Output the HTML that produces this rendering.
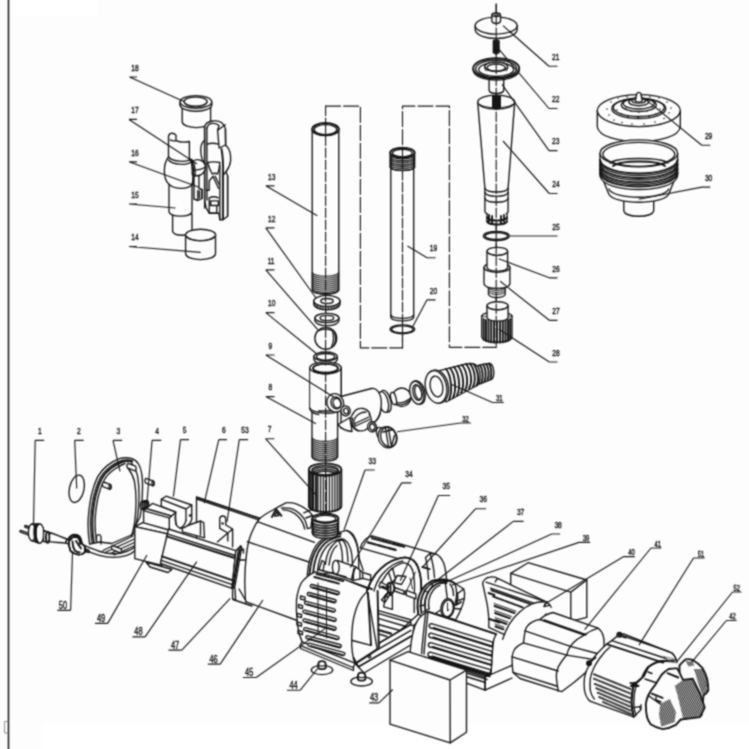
<!DOCTYPE html>
<html><head><meta charset="utf-8"><title>Exploded view</title>
<style>
html,body{margin:0;padding:0;background:#fdfdfd;}
svg{display:block;}
.d{fill:none;stroke:#141414;stroke-width:1.35;stroke-linecap:round;stroke-linejoin:round;}
.d .w{fill:#fdfdfd;}
.d .t{stroke-width:.95;}
.d .b{stroke-width:1.9;}
.d .n{stroke:none;fill:#fdfdfd;}
.l{fill:none;stroke:#181818;stroke-width:1.15;}
.tx{font-family:"Liberation Sans",sans-serif;font-size:9.8px;fill:#141414;stroke:#141414;stroke-width:.4;}
</style></head><body>
<svg width="749" height="749" viewBox="0 0 749 749">
<defs><filter id="soft" filterUnits="userSpaceOnUse" x="-6" y="-6" width="761" height="761" color-interpolation-filters="sRGB"><feConvolveMatrix order="3" kernelMatrix="1 2 1 2 6 2 1 2 1" divisor="18" edgeMode="duplicate" preserveAlpha="true"/></filter></defs>
<g id="all" filter="url(#soft)">
<rect x="-6" y="-6" width="761" height="761" fill="#fdfdfd"/>
<rect x="10" y="-6" width="88" height="22" fill="#ffffff"/>
<rect x="42" y="724" width="713" height="31" fill="#ffffff"/>
<line x1="8.5" y1="-6" x2="8.5" y2="755" stroke="#141414" stroke-width="1.5"/>
<path d="M4.5 721.5h4M4.5 733h4M4.5 721.5v11.5" stroke="#777" stroke-width=".8" fill="none"/>
<g class="d" id="p14_18">
<!-- 18 -->
<path class="w" d="M182.2 105v17c2 7.5 26.4 7.5 28.4 0v-17z"/>
<ellipse class="w" cx="195.9" cy="105" rx="15.8" ry="6.3"/>
<path class="n" d="M180.1 102h31.6v3h-31.6z"/>
<path d="M180.1 102v3M211.7 102v3"/>
<ellipse class="w" cx="195.9" cy="101.9" rx="15.8" ry="6.3"/>
<ellipse cx="195.6" cy="101.6" rx="11.6" ry="4.5"/>
<path class="t" d="M184.5 103.5c3 4.5 19 4.5 22.500 0"/>
<!-- 16 right assembly -->
<path class="w" d="M204.600 127c.5-3 4-5.500 8.400-6c4-.3 8.500 .8 10 3.200c1.500 1.500 2.200 3 2.300 4.600l.3 16.200c2 2 3.800 4.500 4.300 6.800c.8 3 .9 6 .7 9.200c-.5 4-2 7.500-4.600 10.700l1.600 4V216.200l-4.600 3.500h-3.200l-.9-6.500h-9.700l-3-5l-1.600-8z"/>
<path d="M204.600 127v81M206.900 128v72"/>
<path d="M206.900 128c1-3 3.500-4.800 6.100-4.600c3 0 5 1 6 2.300l-1.400 4.600l7.700-5.500"/>
<path d="M217.600 130.300l1.500 17.700M219.100 148l6.500-3M225.600 145v-16.200"/>
<path d="M204.600 140.300c-3 2.500-4 6-3.900 10c0 3.500 .6 6.500 1.600 9.200c.8 1.800 1.800 3.300 3 4.500"/>
<path d="M206.900 144.100c3.500-1 8-1 11.500 0M207.600 162.500c3.500-.8 8.500-.8 12.300 0M207.600 162.500c1 4 2.500 8 4.600 11.500M219.900 162.500c-.3 4-1 8-2.300 11.500M212.200 174c1.500-.8 4-.8 5.400 0"/>
<path class="b" d="M221.500 149c1.500 8 1.800 18 1.500 26.600V219.300"/>
<path d="M219.900 165.600V219.500M223 175.600c1.200-1.500 2.200-2.800 3-3.900M227.600 176v40.200"/>
<path d="M213 176.300l-3.800 4.700v9.200h-3M213 176.300l5.500 12M215 176l4.500 9"/>
<path d="M209.200 197.800v15.400h7.600v-7.700M210.700 200.900h7.700v4.600h-7.700zM209.200 197.800c2.500-1.200 6.500-1.200 9.200 0"/>
<!-- 15 -->
<path class="w" d="M172.600 214v17.500c2 5 17.500 5 19.400 0V214z"/>
<path class="w" d="M169 184.500v27.500c2 5.500 21 5.500 23 0v-27.500z"/>
<path class="w" d="M168.500 136.700c0-3 4-5.200 7.500-1.600v5.500c4 1.800 9 1.800 13.400 .9v18.700c3.500 1 4.500 18 2.600 24.500c-4 5-19 5-23.500-1c-5.500-5-5.500-20 0-26.700z"/>
<path d="M170.100 139.900c1.500.8 3.500 1.500 5.900 .7"/>
<path d="M168.500 157c4 5 19 5.500 22.500 2.100"/>
<path d="M168.500 160c4 5 19 5.500 22.500 2.100"/>
<!-- 17 knob -->
<path class="w" d="M192 162c4.500-4.500 13-2 13.300 5c.2 5-3.500 8.800-8.500 8.800l-4.500-1z"/>
<path d="M193.500 170c4 .3 8-.5 11.500-2.500"/>
<path d="M191 159.100c3 6 3.500 20 1 25"/>
<path d="M192.600 160c3 6 3.500 19 1 24"/>
<!-- small bracket between -->
<path class="w" d="M194 176v23l4 1.500 4-2v-9l-3-1v-13z"/>
<path d="M197.800 190.500v9.500M199.500 191v7M202 189.500v9"/>
<!-- 14 -->
<path class="w" d="M185.600 235v19c2 7.500 28 7.500 29.900 0v-19z"/>
<ellipse class="w" cx="200.600" cy="235" rx="15" ry="5.800"/>
<path class="t" d="M187 236.500c4 5.500 23 5.500 27 0"/>
</g>
<g class="d" id="tubes">
<!-- dashed guide lines -->
<path class="l" stroke-dasharray="9.5 2.5" d="M325.600 106.100V520"/>
<path class="l" stroke-dasharray="15 3" d="M325.600 106.100H360.400V347.900H402.500V106.100H449.400V347.300H496.300V330"/>
<path class="l" stroke-dasharray="15 3" d="M496.200 4V345"/>
<!-- tube 13 -->
<path class="w" d="M312.200 129.200V290c2 5 24.600 5 26.600 0V129.200z"/>
<path style="stroke-width:1.2" d="M312.2 272.5c3 5 23.600 5 26.600 0M312.2 274.5c3 5 23.600 5 26.600 0M312.2 276.5c3 5 23.600 5 26.600 0M312.2 278.5c3 5 23.600 5 26.600 0M312.2 280.5c3 5 23.600 5 26.600 0M312.2 282.5c3 5 23.600 5 26.600 0M312.2 284.5c3 5 23.600 5 26.600 0M312.2 286.5c3 5 23.600 5 26.600 0M312.2 288.5c3 5 23.600 5 26.600 0M312.2 290.5c3 5 23.600 5 26.600 0"/>
<ellipse class="w b" cx="325.500" cy="129.200" rx="13.300" ry="6.200"/>
<ellipse cx="325.500" cy="129.600" rx="11.300" ry="5"/>
<!-- washer 12 -->
<path class="w" d="M313.800 300.900v3.400c2 7.500 24.200 7.500 26.200 0v-3.400z"/>
<path class="t" d="M314.5 302.7v3.2M316.1 304.0v3.2M317.6 304.8v3.2M319.1 305.4v3.2M320.7 305.8v3.2M322.2 306.0v3.2M323.8 306.2v3.2M325.4 306.4v3.2M326.9 306.4v3.2M328.4 306.4v3.2M330.0 306.2v3.2M331.6 306.0v3.2M333.1 305.8v3.2M334.6 305.4v3.2M336.2 304.8v3.2M337.8 304.0v3.2M339.3 302.7v3.2"/>
<ellipse class="w" cx="326.900" cy="300.900" rx="13.100" ry="5.500"/>
<ellipse cx="327" cy="301" rx="6.200" ry="2.500"/>
<!-- washer b -->
<path class="w" d="M314.900 318v2.800c2 6.500 22 6.500 24 0V318z"/>
<ellipse class="w" cx="326.900" cy="318" rx="12" ry="4.600"/>
<ellipse cx="326.900" cy="318" rx="6.800" ry="2.600"/>
<!-- ball 11 -->
<circle class="w" cx="325.800" cy="338.300" r="10.900"/>
<path d="M318 331c4-2.500 11-2.500 15 0M332.500 331c1.500 5 1.500 11-1 16M334.500 332.500c1.500 4 1.500 9-.5 13"/>
<!-- ring 10 -->
<path class="w" d="M313.900 356.500v3c2 6.500 21.400 6.500 23.400 0v-3z"/>
<ellipse class="w" cx="325.600" cy="356.500" rx="11.700" ry="4.500"/>
<ellipse cx="325.600" cy="356.800" rx="9.300" ry="3.300"/>
<!-- branch of tee (behind ball plug etc) -->
<path class="w" d="M341 396.500L371.300 388.500c7 1 10 8 10 16c0 8-2 14-6 17L341 428z"/>
<!-- tee body -->
<path class="w" d="M312 411v46c2 5.500 23.600 5.500 25.600 0V411z"/>
<path style="stroke-width:1.3" d="M312 438.0c3 4.500 22.600 4.500 25.600 0M312 440.0c3 4.500 22.600 4.500 25.600 0M312 442.0c3 4.500 22.600 4.500 25.600 0M312 444.0c3 4.500 22.600 4.500 25.600 0M312 446.0c3 4.500 22.600 4.500 25.600 0M312 448.0c3 4.500 22.600 4.500 25.600 0M312 450.0c3 4.500 22.600 4.500 25.600 0M312 452.0c3 4.500 22.600 4.500 25.600 0M312 454.0c3 4.500 22.600 4.500 25.600 0M312 456.0c3 4.500 22.600 4.500 25.600 0"/>
<path class="w" d="M309.800 367.800V409c1 3 5 5 9 5.500M341.200 367.800V397"/>
<path class="n" d="M310.300 367.800h30.400V410h-30.400z"/>
<path d="M309.800 408c3 6 25 6.500 28.200 3"/>
<ellipse class="w" cx="325.500" cy="367.800" rx="15.700" ry="6"/>
<ellipse class="b" cx="325.500" cy="368.300" rx="12.500" ry="4.400"/>
<path class="t" d="M313.500 370c3 4 21 4 24 0M314.500 371.500c3 3.500 19 3.500 22 0"/>
<path d="M341.200 397v-29"/>
<!-- nut 7 -->
<path class="w b" d="M308.900 469.600V506.400c2 7.500 30.400 7.500 32.400 0V469.600z"/>
<path style="stroke-width:1.25" d="M310.3 472.1V508.8M311.8 473.1V509.8M313.6 474.0V510.5M315.6 474.6V511.2M318.0 475.2V511.7M320.6 475.6V512.1M323.4 475.8V512.3M326.4 475.8V512.3M329.4 475.6V512.1M332.2 475.2V511.7M334.8 474.6V511.1M337.2 473.7V510.3M339.3 472.6V509.2"/>
<path d="M312.700 474.500v35.500M316.800 476v35.500"/>
<ellipse class="w b" cx="325.100" cy="469.600" rx="16.200" ry="6.200"/>
<ellipse cx="325.100" cy="470.200" rx="13.300" ry="4.600"/>
<path d="M312.300 471.200c3-5.500 22.600-5.500 25.600 0M313 473c3-5 21.200-5 24.200 0M314.500 474.200c3-4 18.200-4 21.200 0"/>
<!-- tube 19 -->
<path class="w" d="M390.800 152.700V317.500c2 4.500 20.900 4.500 22.900 0V152.700z"/>
<path d="M390.800 315c2 4.500 20.900 4.500 22.900 0"/>
<ellipse class="w" cx="402.400" cy="329.300" rx="12.300" ry="4.500"/>
<ellipse cx="402.400" cy="329.300" rx="10.800" ry="3.500"/>
<path class="w" d="M390.200 152.700v14.500c2 4.500 22.400 4.500 24.400 0v-14.500z"/>
<path d="M390.200 155.5c2 4.500 22.400 4.500 24.400 0M390.200 157.4c2 4.500 22.400 4.500 24.400 0M390.200 159.3c2 4.500 22.400 4.500 24.400 0M390.200 161.2c2 4.500 22.400 4.500 24.400 0M390.200 163.1c2 4.500 22.400 4.500 24.400 0M390.200 165.0c2 4.500 22.400 4.500 24.400 0M390.200 166.9c2 4.500 22.400 4.500 24.400 0"/>
<ellipse class="w b" cx="402.400" cy="152.700" rx="12.200" ry="5"/>
<ellipse cx="402.400" cy="153" rx="10" ry="3.800"/>
<!-- redraw center lines over tubes -->
<path class="l" stroke-dasharray="9.5 2.5" d="M325.600 124V365"/>
<path class="l" stroke-dasharray="9.5 2.5" d="M325.600 372V520"/>
<path class="l" stroke-dasharray="9.5 2.5" d="M402.500 347.900V148"/>
</g>
<g class="d" id="branch">
<!-- collar at end of branch -->
<ellipse class="w" cx="385.700" cy="401.300" rx="5" ry="11.200" transform="rotate(-14 385.700 401.300)"/>
<ellipse class="w" cx="383.500" cy="402" rx="4.600" ry="10.600" transform="rotate(-14 383.500 402)"/>
<path class="w" d="M371.300 388.500c6.500-1 10.500 7 10 16c-.3 8-3 14-6 17"/>
<!-- ball 2 -->
<circle class="w" cx="401.700" cy="397.300" r="9.300"/>
<path d="M393.500 401.500c5 2.500 11.500 1 16.500-3M394.500 403.500c5 2.500 11 1 15.500-3"/>
<ellipse class="w" cx="393.500" cy="398.500" rx="2.600" ry="6.400" transform="rotate(-14 393.500 398.500)"/>
<!-- washer -->
<ellipse class="w" cx="417.800" cy="392.500" rx="7.200" ry="12" transform="rotate(-14 417.800 392.500)"/>
<ellipse class="w" cx="416.800" cy="392.800" rx="6.800" ry="11.600" transform="rotate(-14 416.800 392.800)"/>
<ellipse cx="417.300" cy="392.500" rx="4.300" ry="8" transform="rotate(-14 417.300 392.500)"/>
<ellipse cx="418.300" cy="392.500" rx="3.300" ry="7" transform="rotate(-14 418.300 392.500)"/>
<!-- hose barb 31 -->
<path class="w" d="M477 366c4-1.500 9-2.500 13-2.500c4 1.500 5 12 2 15.500l-12.500 5z"/>
<path class="w" d="M438.500 370.800L466 364c4-1 8-.5 11 1.500c4 4 4 15 1 19.500L446 402z"/>
<g class="b">
<path d="M446 369c5 6 7 22 3 31M450 368c5 6 7 21 3 30M454 367c5 6 7 20 3 28.500M458 366c5 6 7 19 3 27M462 365c5 6 7 18 3 25.500M466 364c5 6 7 17.500 3 24.500M470 363.800c4.500 5 6.500 16.500 3 23M474 364.500c4 5 5.500 15.500 2.500 21"/>
<path d="M480 365.300c3 4 3.500 12 1.500 17M483 364.500c3 4 3.500 12 1.500 16.500M486 364c3 4 3.500 11.500 1.500 15.500M489 363.600c2.500 4 3 10.500 1.500 14.500"/>
</g>
<ellipse class="w" cx="437.500" cy="386.500" rx="10.800" ry="16.800" transform="rotate(-12 437.500 386.500)"/>
<ellipse class="w" cx="436" cy="386.900" rx="10.500" ry="16.500" transform="rotate(-12 436 386.900)"/>
<ellipse cx="436.500" cy="386.500" rx="6.200" ry="10.500" transform="rotate(-12 436.500 386.500)"/>
<!-- rings on tee front -->
<ellipse class="w" cx="335.200" cy="402.900" rx="8.300" ry="9.400" transform="rotate(-20 335.200 402.900)"/>
<ellipse cx="336" cy="402.900" rx="5" ry="6" transform="rotate(-20 336 402.900)"/>
<ellipse cx="337" cy="403.200" rx="3.800" ry="4.800" transform="rotate(-20 337 403.200)"/>
<ellipse class="w" cx="345.600" cy="410.900" rx="4.600" ry="5" transform="rotate(-20 345.600 410.900)"/>
<ellipse cx="346" cy="411" rx="2.400" ry="2.900" transform="rotate(-20 346 411)"/>
<!-- ball plug with slot -->
<path class="w" d="M338 424.500c3 4 8 6.500 14 7l-2-14z"/>
<circle class="w" cx="360.900" cy="420.500" r="10.400"/>
<path class="w" d="M353 413.500c2-3.500 6-5.500 10-5c3 .5 6 3 7 5.500"/>
<path d="M354 420c2-5 7-8 12-8M355 423.500l14-6.500M355.500 426l14-6.500M354 420c-.5 2 0 4 1.500 6"/>
<path d="M352.500 418c-1.500 5 1 11 6 13"/>
<ellipse class="w" cx="372.100" cy="426.900" rx="4.400" ry="5" transform="rotate(-20 372.100 426.900)"/>
<ellipse cx="372.300" cy="427" rx="2.600" ry="3.200" transform="rotate(-20 372.300 427)"/>
<!-- screw 32 -->
<ellipse class="w" cx="381" cy="434" rx="4" ry="7" transform="rotate(-25 381 434)"/>
<ellipse class="w" cx="387.300" cy="437.300" rx="9" ry="10.800" transform="rotate(-20 387.300 437.300)"/>
<ellipse cx="388.800" cy="437" rx="8" ry="10" transform="rotate(-20 388.800 437)"/>
<path d="M385.500 428l3 18.500M388.300 427.300l3 18.500M383 432l10-2.500M394.500 435.500l-2.500 9"/>
</g>
<g class="d" id="nozzle">
<!-- 21 disk cap -->
<path class="w" d="M475.200 25.600v4.300c2 11.500 40 11.500 42 0v-4.300z"/>
<ellipse class="w" cx="496.200" cy="25.600" rx="21" ry="8.500"/>
<path class="w" d="M491.900 14.800v6.700c1 2.500 7.600 2.500 8.600 0v-6.700z"/>
<ellipse class="w" cx="496.200" cy="14.800" rx="4.300" ry="1.800"/>
<ellipse class="t" cx="496.200" cy="14.800" rx="2.200" ry=".9"/>
<!-- 22 spring -->
<g class="b"><ellipse cx="496.200" cy="41.5" rx="2.700" ry="1.200"/><ellipse cx="496.200" cy="43.6" rx="2.700" ry="1.200"/><ellipse cx="496.200" cy="45.7" rx="2.700" ry="1.200"/><ellipse cx="496.200" cy="47.8" rx="2.700" ry="1.200"/><ellipse cx="496.200" cy="49.9" rx="2.700" ry="1.200"/><ellipse cx="496.200" cy="52.0" rx="2.700" ry="1.200"/></g>
<!-- 23 flanged disc -->
<path class="w" d="M489.100 79v11.500c1 4 13.600 4 14.600 0V79z"/>
<path class="w" d="M473.200 68.400v2c2 13 44 13 46 0v-2z"/>
<ellipse class="w b" cx="496.200" cy="68.400" rx="23" ry="10.200"/>
<ellipse cx="496.200" cy="68.800" rx="20.500" ry="8.800"/>
<ellipse cx="496.200" cy="69.500" rx="17.500" ry="7"/>
<ellipse class="w" cx="496.200" cy="66.800" rx="11.500" ry="4.800"/>
<ellipse cx="496.200" cy="67.600" rx="9.200" ry="3.600"/>
<path class="t" d="M484.700 67c0 2 .5 3 1.500 4M507.700 67c0 2-.5 3-1.500 4"/>
<!-- 24 cone -->
<path class="w" d="M477.700 102.100L484.900 188.200V211.700c2 5 21.200 5 23.200 0V188.200L514.700 102.100z"/>
<path d="M484.900 188.200c2 5 21.200 5 23.200 0M484.900 192.600c2 5 21.200 5 23.200 0M484.900 198.500c2 5 21.200 5 23.200 0"/>
<ellipse class="w" cx="496.200" cy="102.100" rx="18.500" ry="7"/>
<path class="t" d="M479.500 104c3 5 30 5 33.500 0"/>
<g class="b"><path d="M493 96v12M494.800 96v12.500M496.600 96v12.500M498.400 96v12.500M500 96v12"/></g>
<path class="w" d="M487 213.500v8c2 4 18 4 20 0v-8"/>
<path class="b" d="M487 217.500c2 4 18 4 20 0M489 215v6.500M492 216v7M501 216v7M504 215v6.500M487 221.500c2 4 18 4 20 0"/>
<!-- 25 o-ring -->
<ellipse class="w" cx="496.400" cy="236" rx="13" ry="4.600"/>
<ellipse cx="496.400" cy="236" rx="11.300" ry="3.500"/>
<!-- 27 -->
<path class="w" d="M488.500 285v9.500c2 4 14.700 4 16.700 0V285z"/>
<g class="t"><path d="M488.500 288c2 3.500 14.700 3.500 16.700 0M488.500 290c2 3.500 14.700 3.500 16.700 0M488.500 292c2 3.500 14.700 3.500 16.700 0"/></g>
<path class="w" d="M484 267.500V284c2 6 23.900 6 25.900 0V267.500z"/>
<ellipse class="w" cx="497" cy="267.500" rx="12.950" ry="4.800"/>
<!-- 26 -->
<path class="w" d="M487 251.300v16.500c2 4.500 18.600 4.500 20.600 0v-16.500z"/>
<ellipse class="w" cx="497.300" cy="251.300" rx="10.300" ry="4"/>
<path class="t" d="M488.500 252.800c2 3.500 15.600 3.500 17.600 0"/>
<!-- 28 -->
<path class="w" d="M481.700 316V337c2 7 28.300 7 30.300 0V316z"/>
<path class="w" d="M481.700 316c2-5 28.300-5 30.300 0"/>
<g class="b"><path d="M483.700 319v20.500M486 320v21M488.500 320.500v21.300M491.200 321v21.400M494 321.200v21.500M497 321.300v21.500M500 321.200v21.500M502.800 321v21.400M505.500 320.500v21.300M508 320v21M510.200 319v20.500"/></g>
<path class="w" d="M487 305.700v12c2 4.500 19.100 4.500 21.100 0v-12z"/>
<ellipse class="w" cx="497.550" cy="305.700" rx="10.550" ry="4"/>
<path class="t" d="M488.500 307.200c2 3.500 16 3.500 18 0"/>
<!-- center line redraw -->
<path class="l" stroke-dasharray="9.5 2.5" d="M496.200 4V345"/>
<!-- 29 spray head -->
<path class="w" d="M597.300 110.600V127c3 19.500 80 19.500 83 0V110.600z"/>
<ellipse class="w" cx="638.800" cy="110.600" rx="41.500" ry="16"/>
<ellipse cx="638.800" cy="108.500" rx="27" ry="10"/>
<ellipse cx="638.800" cy="107.500" rx="25.500" ry="9"/>
<ellipse class="w" cx="638.800" cy="105" rx="17.500" ry="6.500"/>
<ellipse cx="638.800" cy="103.500" rx="15.500" ry="5.500"/>
<ellipse class="w" cx="638.800" cy="102" rx="10" ry="3.800"/>
<ellipse cx="638.800" cy="100.500" rx="7" ry="2.600"/>
<path class="w" d="M635.300 101l1.500-7.500c.7-1.500 3.300-1.500 4 0l1.500 7.500c-1 1.500-6 1.500-7 0z"/>
<g fill="#1c1c1c" stroke="none">
<circle cx="607" cy="109" r=".8"/><circle cx="609" cy="115" r=".8"/><circle cx="614" cy="120" r=".8"/><circle cx="622" cy="122.500" r=".8"/><circle cx="632" cy="124" r=".8"/><circle cx="644" cy="124" r=".8"/><circle cx="655" cy="122" r=".8"/><circle cx="664" cy="118.500" r=".8"/><circle cx="669" cy="113" r=".8"/><circle cx="671" cy="108" r=".8"/><circle cx="667" cy="102" r=".8"/><circle cx="611" cy="102" r=".8"/><circle cx="618" cy="98" r=".8"/><circle cx="659" cy="98" r=".8"/>
<circle cx="617" cy="110" r=".8"/><circle cx="621" cy="114" r=".8"/><circle cx="628" cy="116.500" r=".8"/><circle cx="638" cy="117.500" r=".8"/><circle cx="649" cy="116.500" r=".8"/><circle cx="656" cy="114" r=".8"/><circle cx="660" cy="109" r=".8"/><circle cx="627" cy="97" r=".8"/><circle cx="650" cy="97" r=".8"/>
<circle cx="626" cy="108" r=".8"/><circle cx="631" cy="111" r=".8"/><circle cx="639" cy="112" r=".8"/><circle cx="647" cy="111" r=".8"/><circle cx="652" cy="107" r=".8"/><circle cx="634" cy="100" r=".8"/><circle cx="644" cy="100" r=".8"/>
</g>
<!-- 30 -->
<path class="w" d="M623.800 200v11c2 7 27.900 7 29.900 0v-11z"/>
<path class="w" d="M603.500 181.100l5.300 12.900c5 11 55 11 60 0l5.200-12.900z"/>
<path d="M608.800 189c5 11 55 11 60 0"/>
<path class="w" d="M600 153.300V176c3 18 74.600 18 77.600 0V153.300z"/>
<g class="b"><path d="M600 160c3 18 74.600 18 77.600 0M600 164.500c3 18 74.600 18 77.600 0M600 169c3 18 74.600 18 77.600 0M600 173c3 18 74.600 18 77.600 0"/></g>
<path d="M600 162c3 18 74.600 18 77.600 0M600 166.500c3 18 74.600 18 77.600 0M600 171c3 18 74.600 18 77.600 0"/>
<ellipse class="w" cx="638.800" cy="153.300" rx="38.800" ry="13.500"/>
<ellipse cx="638.800" cy="154.300" rx="36" ry="12"/>
<path d="M610 163c8-6 50-6 58 0"/>
<path class="b" d="M613 166c8-6 44-6 52 0"/>
</g>
<g class="d" id="left">
<!-- 2 o-ring -->
<ellipse cx="76.700" cy="488.800" rx="7.300" ry="13.900" transform="rotate(12 76.700 488.800)"/>
<!-- 1 plug -->
<path class="w" d="M20.600 530.300l8 2.900v1.900l-8-2.900c-.9-.5-.9-1.600 0-1.900zM25.400 525.500l6 2v1.900l-6-2c-.9-.5-.9-1.600 0-1.900z"/>
<path class="w" d="M32 524l7.800 0v19.200l-7.800-2.400z"/>
<ellipse class="w" cx="39.800" cy="533.600" rx="4.200" ry="9.600"/>
<ellipse class="w" cx="32" cy="532.400" rx="3.600" ry="8.400"/>
<path class="b" d="M36 524.300c-2.200 2-2.500 13 .3 17.700M37.500 524.200c-2.200 2-2.500 14 .3 18.500"/>
<path class="w" d="M43.500 530.500l4.200 1.500v10l-4.200-.5z"/>
<ellipse class="w b" cx="47.700" cy="537.200" rx="1.800" ry="5.600"/>
<path class="w" d="M49.500 532.500c6 1.500 11 4.500 17.400 6.500l-1.200 4.200c-6-1-10.500-.3-16.200-1.500z"/>
<!-- cable -->
<path class="w" d="M66.900 539c10 3 22 9 33 12.500c8 2.500 18.500 3 26.500 0c3-1 6-2.500 8.500-4.500v3.800c-2 2-5 3.500-8 4.500c-8 2.500-19 2.500-27.500 0c-12-3.500-23-9.500-33.700-12.100z"/>
<!-- cover 3 -->
<path class="w" d="M89.600 544.200c-1.500-10-2-22-.8-32.100c.8-7 1.500-13 3.200-19.200c1.500-6 3.200-11 5.600-16c2.500-4.500 5.500-8 9.600-11.300c4-3 8-5.500 12.800-7.200c3.500-.8 7.800-.8 11.300 0c3.500 1.200 5.700 3 7.200 5.600c1.800 3 2.700 6 3.200 9.700c.8 4.500.9 9.500.8 14.400c0 5.500-.3 10.500-.8 16c-.4 4.500-.9 9-1.600 12.900l-4.600 8.500l-1.800 8.500l-22 9.500l-12-1.500z"/>
<path d="M92 543c-1.500-10-2-21-.8-31c.8-7 1.500-12.500 3.200-18.500c1.500-6 3.200-10.500 5.600-15.500c2.500-4.500 5.500-7.500 9.600-10.800c4-3 7.500-5 12.300-6.700c3.500-.8 7-.8 10 0"/>
<path class="b" d="M93.800 542.500c-1.500-10-2-20.500-.8-30.500c.8-7 1.500-12.500 3.200-18.500c1.500-6 3.200-10.500 5.600-15c2.500-4.500 5.500-7.500 9.600-10.500c4-3 7.500-5 11.800-6.500c3.500-.8 6-.8 9 0"/>
<path d="M96.500 541.500c-1.500-10-2-19.500-.8-29.500c.8-7 1.500-12 3.200-18c1.500-6 3.200-10 5.600-14.500c2.500-4.500 5.500-7 9.600-10c4-3 7-4.500 10.800-6"/>
<path d="M128 468c3 4 5.500 9 6.500 13.700c1.200 7 1.700 14.500 1.500 22.300c-.2 7-.6 13.500-1.500 19.300c-.7 5-1.800 9-3.200 12.700"/>
<path d="M131.500 463c3 4 5 8 6 12.700c1.200 7 1.700 14.500 1.500 22.300c-.2 7-.6 13.500-1.500 19.300l-2 9"/>
<!-- pegs -->
<path class="w" d="M103.500 482l6.500 2.400c1.500.6 1.500 4.600 0 4.900l-6.500-2.400c-1.500-.8-1.500-4.100 0-4.900z"/>
<ellipse cx="110" cy="486.800" rx="1" ry="2.400"/>
<path class="w" d="M128 463.300l7 2.600c1.500.6 1.500 4.600 0 4.900l-7-2.600c-1.500-.8-1.500-4.100 0-4.900z"/>
<path class="w" d="M146 478.300l7 2.600c1.500.6 1.500 4.600 0 4.900l-7-2.600c-1.500-.8-1.500-4.100 0-4.900z"/>
<ellipse cx="153" cy="483.300" rx="1" ry="2.400"/>
<!-- bottom rails -->
<path d="M96.500 541.500v-5c1-2.500 4-2.500 4.500.5v7M103 550.500l30-14.500M106 552l28.500-13M110.500 553.500l24-11M114 555l21-9.500"/>
<path class="w" d="M112.500 545.500l8 3.200c1.300.5 1.300 4 0 4.200l-8-3.200c-1.300-.7-1.300-3.500 0-4.200z"/>
<!-- clip 50 -->
<path class="w" d="M68.700 539c1-2.500 3-4 5.400-4.200c2-.2 4 .5 5.400 1.800c1.500 2 2.200 4.500 2.400 7.200l3 2.400v6.100l-3 2l-3 .4c-3-.3-6-1.500-8.400-3.700c-1.500-3.500-2.200-7.500-1.800-12z"/>
<path class="b" d="M68.700 539c1-2.500 3-4 5.400-4.200c2-.2 4 .5 5.400 1.800c1.500 2 2.200 4.500 2.400 7.200M70.500 540c.8-2 2.300-3 4-3.200c1.500 0 3 .5 4 1.500c1 1.500 1.500 3.500 1.600 5.500M68.700 539c-.4 4.500.3 8.500 1.800 12c2.400 2.200 5.400 3.400 8.400 3.700M72.500 541.500c0 3.500 .8 6.500 2.300 9c1.500 1.200 3 1.800 5 2M76 541l5 7.500M81.900 543.800l3 2.400v6.100l-3 2"/>
<path d="M85.500 549l3.500 1.200v2.300l-3.500-1z"/>
<!-- grommet 4 on box -->
<ellipse class="w" cx="142.500" cy="505.500" rx="2.200" ry="4"/>
<ellipse class="w b" cx="144.500" cy="505" rx="2.200" ry="4"/>
<ellipse class="b" cx="146.500" cy="504.500" rx="2" ry="3.800"/>
</g>
<g class="d" id="box">
<!-- plate 6 -->
<path class="w" d="M196.500 497L259.500 518.200V560H196.500z"/>
<path d="M196.500 497.400L259.500 518.400"/>
<path d="M196.800 499L258 519.600"/>
<!-- keyhole 53 -->
<path d="M219.700 528.300V519.500a3 3.400 0 0 1 6.100 0V525l6.800 4V546.700M219.700 528.300l8.100 4.700V541M227.800 533l4.800-4M217.300 541.900l10.500-8.900"/>
<circle cx="222.600" cy="523.500" r=".6" fill="#1c1c1c"/>
<!-- base behind blocks -->
<path class="w" d="M182 527.500l18.500-6.500l3.200 1.700l.8 15.200l-22-6z"/>
<path d="M200.500 521v14"/>
<!-- block 2 -->
<path class="w" d="M161.300 499.400L166 496.200L191.700 505V519.500c-1 4-5 7.500-9.500 8.500c-3.500 0-6-2-6.500-5l-.2-11l-14.200-5.500z"/>
<path d="M161.300 499.400L186 509L191.700 505M186 509v11.300"/>
<path d="M175.700 512c-.8 5-.5 10 1 13.500M186 520.300c-1 4-3.500 7-6.300 8"/>
<circle cx="190" cy="515.500" r=".6" fill="#1c1c1c"/>
<!-- block 1 -->
<path class="w" d="M143.600 510.600L152.400 503.400L175.700 512.200L169.300 517.900V534L143.600 527z"/>
<path d="M143.600 510.600L169.300 517.900M146 508.500L171.500 516"/>
<!-- box 49 -->
<path class="w" d="M134.800 526.700L142.800 522.700L169 530L167.700 533.900z"/>
<path class="w" d="M146 562l4 5l18 5.500l4-3z"/>
<path class="w" d="M134.800 526.700L167.700 533.900L162 565.500L134.800 558.700z"/>
<!-- panel 48 -->
<path class="w" d="M168.500 529L235.800 550.700L232 588.400L160.400 563.500z"/>
<path d="M167.200 533.900L235 555.500"/>
<path class="b" d="M166.700 536.300L234.700 558"/>
<path class="b" d="M162 556.300L232.800 580.300"/>
<path d="M161.200 560.300L232.300 584.600"/>
<!-- clip 47 -->
<path class="w" d="M235.800 550.700l4.800-4.800l1.200 1.300l-7.200 41l-2.600-.6z"/>
<path d="M240.600 545.900l-7.200 41.500M238.500 549l-5.800 39"/>
<path d="M232.600 587.600v11.200l3 1.200M235 589l.6 10M239 589l7 12"/>
<path d="M240 551l3.500-2v4"/>
</g>
<g class="d" id="pumpA">
<!-- back block -->
<path class="w" d="M510.700 573.400L528.100 562.700L586.800 580V617.400L570.800 621.400L510.700 604z"/>
<path d="M510.700 573.400L570.800 592.100L586.800 580M570.800 592.100V621.400"/>
<!-- rear basket (right upper) -->
<path class="w" d="M482.600 583c1-3.500 4.500-6 7.800-6c3.500-.3 6.500.5 7.800 1.700L546.800 602.100l-30 38L488.700 627.300c.5-8 0-14-1.400-22.500z"/>
<path d="M486 582.200L546.800 602.100M498.200 578.700c-1 .3-2.500 1.800-3 3.300"/>
<path d="M490.400 588.200L540.800 605.600"/>
<g style="stroke-width:1.8" stroke-dasharray=".7 .6"><path d="M491.300 590.200L530.300 604M493 596.500L523 607.500"/></g>
<g class="b">
<path d="M488.500 593l6 2M489.500 619l10 3.500"/>
<path d="M494.500 606l20 7M495 613l15 5.300M495.500 620l11 4M495.500 626.500l8 2.800"/>
</g>
<path class="t" d="M494 603.500l22 7.700M494.500 610.500l17 6M495 617.500l13 4.500M495 624l9 3.200"/>
<!-- cover 40 band -->
<path class="n" d="M546.800 602.100c-5-1-10 0-14.700 1.800c-5 2-9 5-12.200 7.800c-4 3.500-7.500 7.500-10.400 12.100c-3 5-5 10-6.900 15.600l-6 35l20-10l8-30l14-14l12.600-13c-1-2-2.500-4-4.400-5.300z"/>
<path d="M551.200 607.300c-1-2-2.500-4-4.400-5.200c-5-1-10 0-14.700 1.800c-5 2-9 5-12.200 7.800c-4 3.500-7.500 7.500-10.400 12.100c-3 5-5 10-6.900 15.600"/>
<path d="M546.800 602.100l-3 4.500l5.500-1.200"/>
<!-- motor shell 40/41 -->
<path class="w" d="M512.100 656.800c.5-3 1.200-5.500 2.600-7.800c2-2.500 5-4.500 8.700-6.100l1.700-12.100c1-4 4-7 7-8.700c2.500-1.500 5-2.300 7.800-2.600c2-2 4-3.500 6-4.400c2-1.200 4.500-2 7-2.600L598.100 628.200c3 2 4.500 5 5.200 7.800c.8 3 1 6 .8 8.700c-.3 3.500-1.500 6.500-3 9.500c-3 5.500-7 10-11.500 14.500c-5 5-10.500 9.500-16 14l-12 9L520 678.500l-7-6.100c-.8-5-.9-10-.9-15.600z"/>
<path d="M539.900 619.500L584.200 635.100M525.100 630.800L570.300 646.400M523.400 642.900L566.800 655.100M512.100 656.800L558.100 671M513 672.400L556.500 686"/>
<path d="M598.100 628.200c-5 1.500-10 4-13.900 6.900c-3 1.500-5 3-7 4.300c-3 2-5 4.500-6.900 7c-2 3-3 6-3.500 8.700c-3 3-6 7.500-8.700 12.100c-1.500 4-2 8-1.700 10.400c.2 3.500 1 7 1.700 13.500"/>
<path d="M566.800 655.100L592.800 659.400M570.300 646.400L599 654"/>
<g style="stroke-width:1.600" stroke-dasharray=".7 .5"><path d="M544 620L586 634.700"/></g>
</g>
<g class="d" id="pumpB">
<!-- back basket (upper-left) -->
<path class="n" d="M360.300 547.800c1-3.500 3-6.500 5.300-8.600c2-1.700 4-2.700 6.400-3.200L436.200 554.200c3 1.500 5.500 4.500 7.400 8.500c1.800 5 2.700 12 3.200 19.300l-2 38l-80-10z"/>
<path d="M360.300 547.800c1-3.500 3-6.500 5.300-8.600c2-1.700 4-2.700 6.400-3.200L436.200 554.200c3 1.500 5.500 4.500 7.400 8.500c1.800 5 2.700 12 3.200 19.300"/>
<path d="M360.300 547.800L417 563.800M425.500 557.400l4.500-4l6.200 .8M425.500 557.400c1.500 6 2.500 14 3 22M430 553.500c2 6 4 16 4.500 24"/>
<g style="stroke-width:2.200" stroke-dasharray="9 1.500"><path d="M372 538.200L404.100 546.700M367.800 542.400L395.600 549.900"/></g>
<path class="b" d="M422.300 567l7.400 2.100"/>
<!-- body 46 -->
<path class="n" d="M245.500 604c-.5-3-.4-6-.2-8.200c-1-14-.5-28 1.200-41.700c.8-7.500 2.300-14.500 4.900-20.800c2.200-5.500 4.800-10.500 8.100-14.500c3.500-3.200 8-6 13.500-8.800c4-2.500 8.500-5 12.900-7.200c3.300-.3 6.500 0 9.600 .8c4.500 1.500 9 4 12.800 7.200c1.800 1.700 3.500 3.600 4.800 5.600l-.5 12l12 14l-16 40l-14 40z"/>
<path d="M246 602c-.7-2.500-.9-4.500-.7-6.200c-1-14-.5-28 1.200-41.700c.8-7.500 2.300-14.500 4.900-20.800c2.200-5.500 4.800-10.500 8.100-14.500c3.500-3.200 8-6 13.500-8.800c4-2.500 8.500-5 12.900-7.200c3.300-.3 6.500 0 9.600 .8c4.500 1.500 9 4 12.800 7.200c1.800 1.700 3.500 3.600 4.800 5.600"/>
<path d="M281.500 508c3-.3 6-.2 9 .4c3.500 1 6.800 3 9.600 5.600c2 2 3.600 4 4.800 6c1.200 2.800 2 5.500 2.400 8.500l3.600-.6c.3-3.300 .7-6.500 1.200-9.700"/>
<path d="M282.700 509.800c2.500 0 5 .4 7.500 1.300c3 1.200 5.700 3 8 5.300c1.800 1.800 3.200 3.800 4.300 6c1 2.200 1.800 4.300 2.200 6.600"/>
<path d="M303.700 512.800l7.200-3M305.800 518l6.800-2.500"/>
<path class="b" d="M271.900 517l4.200-7.800l5.400 6.600"/>
<path d="M274.500 516l2-4l2.500 3.500z"/>
<path d="M258 521.900L314.500 542.300M247.200 541.700L309 562M246 601.800L300 621.500M233 599.500L252 606"/>
<!-- arch volute 33 -->
<path class="w" d="M307.300 575.100c.5-6 1.200-11 2.700-16.100c1.500-5 3.500-9.500 6-13.300c2-2.800 4-5 6.700-6.700c5-3 11-5 16-6.600c3-.8 5.500-1.500 8-2c3 .8 5 2.500 6.700 4.600c2 3 3.200 6.500 4 10.700c.8 4 1.200 8 1.300 12.100v12z"/>
<g class="b">
<path d="M309.500 574c.5-6 1.200-10 2.700-15c1.500-5 3.500-9 6-12.500c2-2.800 4-5 6.700-6.700c5-3 11-5 16-6.200"/>
<path d="M313 573.500c.5-6 1.200-10 2.700-14.500c1.500-5 3.500-9 6-12c2-2.800 4-4.500 6.700-6.200c4-2.300 8-3.700 12-4.600"/>
</g>
<path d="M317.500 571c.5-5 1.200-9 2.700-13c1.500-4.500 3.500-8 6-11c2-2.500 4-4 6.700-5.500c3-1.500 6-2.300 9-2.500c3 .5 5 2.500 6.500 5c1.700 3 2.700 6 3.300 10c.5 3.500.7 7 .8 10.500"/>
<path d="M325.400 564.400c.5-5 1.500-9.500 3.300-13.400c2-4 4.500-7 7.300-9.300c2.500-1.300 4.500-1.700 6.700-1.300c2 1.500 3 4.500 4 8c.7 4 1.100 8.500 1.300 13.400"/>
<path d="M329 565c.5-5 1.500-9 3-12.500c1.500-3.500 3-5.500 5-7M339 541c1.500 3 2.500 7 3 11c.4 3.500.5 7 .5 10.500"/>
<path d="M346.700 530.400c4 2 7 6 9 11c2 5 3 11 3.500 17l4 12"/>
<!-- outlet thread 33 -->
<path class="w" d="M312.400 518.400V533.700c2 6 24 6 26 0V518.400z"/>
<g class="b"><path d="M312.400 522c2 5 24 5 26 0M312.400 524.500c2 5 24 5 26 0M312.400 527c2 5 24 5 26 0M312.400 529.500c2 5 24 5 26 0M312.400 532c2 5 24 5 26 0"/></g>
<ellipse class="w b" cx="325.400" cy="518.400" rx="13" ry="4.600"/>
<ellipse cx="325.400" cy="518.800" rx="10.500" ry="3.400"/>
<path class="t" d="M315.500 520.500c3 3.500 17 3.500 20 0"/>
<!-- inner motor cylinder -->
<path class="w" d="M337.400 560.400L356 567l6.700 5.400l8 2.600v5.400l-8-2l-9.300 2L335.400 574.400z"/>
<ellipse class="w" cx="335.800" cy="567.300" rx="3.400" ry="7"/>
<path d="M356 567c-2 3-3 8-2.600 13.400M354 568.500l-2.500 11M362.700 572.400v6M360 571v8"/>
<path d="M319 569.500l3-9l2.500 1.500l-1.500 9"/>
</g>
<g class="d" id="pumpC">
<!-- base rails under frame (behind) -->
<path class="w" d="M355 663.400L420 621l8 2l-4 14l-60 36z"/>
<!-- basket 45 -->
<path class="w" d="M315.200 571.800L344.200 579.300L370.400 589.500c-5 3-8.500 7-11.200 12.200c-3.500 7-5.500 14-6.600 22.400c-.8 7-1 14-.9 20.600c.2 5 .8 10 1.900 14.900l1.800 3.800L302.100 641.900c-2.500-5.500-4-11.500-4.600-17.800c-1-8-1.500-16-1-24.300c.8-6 2.300-12 4.700-16.800c3-4.500 8-8.500 14-11.200z"/>
<path d="M302.100 641.900l-2 3.500L353 667.500l2.400-4.100"/>
<path d="M300.500 645.500v3l53 22v-3"/>
<path d="M318 569.500L346 577"/>
<g style="stroke-width:2" stroke-dasharray="6 1.2"><path d="M316.500 574L343.500 581M314.300 577L339 583.600"/></g>
<path class="w" d="M312.0 584.5L338.0 591.5a1.5 1.5 0 0 1 -.4 3.0L311.6 587.5a1.5 1.5 0 0 1 .4 -3.0z"/>
<path class="b" d="M313.0 587.5L337.5 594.5"/>
<path class="w" d="M309.0 592.5L334.8 599.5a1.5 1.5 0 0 1 -.4 3.0L308.6 595.5a1.5 1.5 0 0 1 .4 -3.0z"/>
<path class="b" d="M310.0 595.5L334.3 602.5"/>
<path class="w" d="M306.2 601.3L334.0 608.8a1.5 1.5 0 0 1 -.4 3.0L305.8 604.3a1.5 1.5 0 0 1 .4 -3.0z"/>
<path class="b" d="M307.2 604.3L333.5 611.8"/>
<path class="w" d="M304.7 610.1L334.8 618.2a1.5 1.5 0 0 1 -.4 3.0L304.3 613.1a1.5 1.5 0 0 1 .4 -3.0z"/>
<path class="b" d="M305.7 613.1L334.3 621.2"/>
<path class="w" d="M304.7 618.9L334.8 627.0a1.5 1.5 0 0 1 -.4 3.0L304.3 621.9a1.5 1.5 0 0 1 .4 -3.0z"/>
<path class="b" d="M305.7 621.9L334.3 630.0"/>
<path class="w" d="M305.4 627.7L337.7 636.4a1.5 1.5 0 0 1 -.4 3.0L305.0 630.7a1.5 1.5 0 0 1 .4 -3.0z"/>
<path class="b" d="M306.4 630.7L337.2 639.4"/>
<path class="w" d="M307.6 635.8L340.0 644.5a1.5 1.5 0 0 1 -.4 3.0L307.2 638.8a1.5 1.5 0 0 1 .4 -3.0z"/>
<path class="b" d="M308.6 638.8L339.5 647.5"/>
<path class="w" d="M309.5 643.1L343.6 652.3a1.5 1.5 0 0 1 -.4 3.0L309.1 646.1a1.5 1.5 0 0 1 .4 -3.0z"/>
<path class="b" d="M310.5 646.1L343.1 655.3"/>
<path d="M298.5 604.5L302.5 605.6v3.0L298.5 607.5z"/>
<path d="M297.0 613.3L301.5 614.5v3.0L297.0 616.3z"/>
<path d="M297.0 622.0L301.5 623.2v3.0L297.0 625.0z"/>
<path d="M298.0 630.5L302.5 631.7v3.0L298.0 633.5z"/>
<path d="M300.5 596.0L305.0 597.2v3.0L300.5 599.0z"/>
<path class="t" d="M318 583v52M326.500 588v50"/>
<!-- frame arch + impeller -->
<path class="w" d="M367 590.500c2-6 5-11.500 8.700-16.500c3-3.500 6.500-7 10.700-10c4-2.500 8-4.300 12-5.300c2.500-.8 4.500-1.200 6.600-1.300c3 .3 5.500 1.300 8 2.600c2 1.700 3.500 4 4.800 6.700c1.500 4 2.700 8.500 3.200 13.300c.3 7 .5 13.500 .5 20c0 4-.3 8-.8 12L380.600 648.200l-3.200 2.100z"/>
<path class="b" d="M367 590.500c2-6 5-11.500 8.700-16.500c3-3.500 6.500-7 10.700-10c4-2.500 8-4.300 12-5.300c2.500-.8 4.500-1.200 6.600-1.300c3 .3 5.500 1.300 8 2.600c2 1.700 3.500 4 4.800 6.700c1.500 4 2.700 8.500 3.200 13.300c.3 7 .5 13.500 .5 20c0 4-.3 8-.8 12"/>
<path d="M379.700 588c1.500-5.500 4-10 6.700-13.500c2.700-3.500 6-6.500 9.300-8.500c2.500-1.500 5.500-2.800 8-3.400c2.500.5 5 1.500 6.700 3.400c1.700 2.500 2.800 5.500 3.400 9.300c.8 6 1 12 .6 18.700c-.2 6-.3 12.500-.2 18.600"/>
<path d="M374 591c1.500-6 4.500-12 8-16.500c3-3.500 6.500-7 10.700-9.500c3.500-2 7-3.500 10-4"/>
<path class="b" d="M367 590.500l2-2.500l3 1.200M368 593L371 645M377.600 591L378.800 648.900"/>

<path d="M352 581.800L368.500 588"/>
<!-- impeller -->
<path class="w" d="M397 575.500l9 1l-4.500 8l-7.500-1.800zM385 597.400l7.400-2.700v14.700l-8.700-2.600zM392.500 568l3 11l-3.500 3.500l-3.500-10.500zM380.500 582l8.500 4.500l-1.500 3.500l-8.500-3.500zM381.500 600l6-7l2.500 1.500l-5 8z"/>
<path class="b" d="M388 583.500c2-1.500 4.500-1 5.500 1c1 2.500 1 6-.5 8c-1.500 1.500-4 1-5-1c-1-2.500-1-6 0-8z"/>
<path class="b" d="M390.500 583v10.500M386 588l-4-1.500M388 593l-3 3"/>
<path class="w" d="M394.500 587.500l9.600 3.400v3.500l-9.600-3.400zM406.200 590.300l9.700 3.600v5l-9.700-3.600z"/>
<path d="M404.100 591.400l2.100 .7M404.100 593.400l2.100 .7"/>
<path class="t" d="M410 578l2.500 11M415.500 572l-9 19"/>
<!-- frame bottom rails -->
<path class="w" d="M379.400 642.900L410 624.900l4 1l-1 9.500L358.400 666.900l-2.500-3.300L378.800 648.900z"/>
<path d="M379.400 642.900L411 624.300M378.800 648.900L411 630.300M358.400 666.900L411 636M352.400 640.500L371 645.300M353.600 657.300l4.800 9.600"/>
<path d="M377.600 610.400L411.300 620M378 613.400L411.300 623M378.200 618.400L406 626.500M378.500 624.500L400 630.500M378.800 634L387 636.500"/>
<g style="stroke-width:2.200" stroke-dasharray="1 .6"><path d="M378.500 630L391 633.600"/></g>
<circle cx="369.500" cy="656.500" r="1.200"/>
</g>
<g class="d" id="pumpD">
<!-- motor end housing -->
<path class="w" d="M440 580c5-1.500 10 0 14.400 3l9.300 6c1.200 3 1.200 6 .7 9.400c-.8 4-2 7.500-3.400 10.600c-1.500 4-3.500 7.500-5.300 10.800l-20-6z"/>
<path d="M454.400 583c2 4 2.500 9 2 14c-.6 5-2 10-4.500 14.500M463.700 589l-6 4.500M464.400 598.400l-7.500 2.600M461 609l-6.500-.5M450 584c2.500 3 3.500 7 3.500 11.500"/>
<path class="b" d="M457 593c1 4 .5 8-1 12l5-3"/>
<!-- rings 36-39 -->
<path class="w" d="M418.400 614.400c-1-5-1.200-9-.7-13.400c1-4.500 2.500-8.500 4.700-12c2.500-3.500 5.500-6 9.300-8c4-1.500 8.500-2 13.300-1.300l3 25l-20 14z"/>
<g class="b">
<path d="M418.400 614.400c-1-5-1.200-9-.7-13.400c1-4.500 2.500-8.500 4.700-12c2.500-3.500 5.500-6 9.300-8c4-1.500 8.500-2 13.300-1.300c3.500.5 6.500 1.500 9.400 3.300"/>
<path d="M421.500 613c-1-4.500-1-8.500-.5-12.500c1-4.500 2.500-8 4.700-11.500c2.500-3.200 5.500-5.500 9-7c3.500-1.200 7.500-1.500 11.500-.8"/>
<path d="M425.500 611c-.8-4-.8-7.500-.3-11c.9-4 2.300-7 4.300-10c2.200-3 5-5 8-6.300c3-1 6-1.300 9-.7"/>
</g>
<path d="M429 609c-.7-3.500-.5-6.500 0-9.500c.8-3.500 2-6.500 4-9c2-2.500 4.500-4.300 7-5.300"/>
<path d="M423 612l6-3M420 606l4.500-1M424 590l4 2.500M431 583l2.500 3.500"/>
<ellipse class="w" cx="447.500" cy="608.200" rx="6.600" ry="9.600" transform="rotate(8 447.500 608.200)"/>
<ellipse cx="447.800" cy="608.400" rx="5.400" ry="8.400" transform="rotate(8 447.800 608.400)"/>
<path class="t" d="M447.500 603v8l1.500-1.200"/>
<!-- front basket -->
<path class="w" d="M428 611.600L496.200 634.100c-2 3-3 6.500-3.200 10.400l-1 12.800l-.7 12.800l-2.300 4l-4 2.400v13.700L424 667l-14-8c-.3-3.500 0-6.500.4-9.700c.5-6 1.200-11 2.400-16c1-5 2.600-9.500 4.800-12.900c2.500-4 6-7 10.400-8.800z"/>
<path class="b" d="M428 611.600L496.200 634.100"/>
<path d="M428 611.600c-1.500 14-3 28-4 42.500M425.600 613c-1.500 14-3 27-4 40.500"/>
<path d="M431.5 623.6L492.6 642.2v4.6L431.5 628.2a2.3 2.3 0 0 1 0 -4.6z"/>
<path class="b" d="M433.5 627.9L492.1 646.5"/>
<path d="M431.1 633.1L492.1 651.4v4.6L431.1 637.7a2.3 2.3 0 0 1 0 -4.6z"/>
<path class="b" d="M433.1 637.4L491.6 655.7"/>
<path d="M430.7 642.6L491.6 660.6v4.6L430.7 647.2a2.3 2.3 0 0 1 0 -4.6z"/>
<path class="b" d="M432.7 646.9L491.1 664.9"/>
<path d="M430.3 652.1L491.1 669.8v4.6L430.3 656.7a2.3 2.3 0 0 1 0 -4.6z"/>
<path class="b" d="M432.3 656.4L490.6 674.1"/>
<path style="stroke-width:2.4" d="M430 657.500L489.500 676"/>
<path d="M428.500 661L487 679.500M427 664.500L485.500 682.500"/>
<path d="M424 657L485 677v13.200M485 677L512 665.300M485 690.200L512 678"/>
<!-- box 43 -->
<path class="w" d="M390 660.100L408 651.700L466.500 670.100V732.200L450.200 742.900L390 724.200z"/>
<path d="M390 660.100L450 680L466.500 670.100M450 680L450.200 742.900"/>
<!-- feet 44 -->
<ellipse class="w" cx="322" cy="670" rx="10.700" ry="4.600"/>
<path class="w b" d="M318.300 668v-3.500c0-4.500 7.400-4.500 7.400 0v3.500c-1 1.500-6.400 1.500-7.400 0z"/>
<path d="M318.300 665c1 1.500 6.400 1.500 7.400 0"/>
<ellipse class="w" cx="361.600" cy="681.400" rx="10.700" ry="4.600"/>
<path class="w b" d="M357.900 679.500v-3.500c0-4.500 7.400-4.500 7.400 0v3.500c-1 1.500-6.400 1.500-7.400 0z"/>
<path d="M357.900 676.500c1 1.500 6.400 1.500 7.400 0"/>
</g>
<g class="d" id="housing">
<defs>
<pattern id="hat" width="2.2" height="2.2" patternUnits="userSpaceOnUse" patternTransform="rotate(-62)"><rect width="2.2" height="2.2" fill="#fdfdfd"/><line x1="0" y1=".6" x2="2.2" y2=".6" stroke="#333" stroke-width=".8"/></pattern>
<pattern id="hat2" width="1.5" height="1.5" patternUnits="userSpaceOnUse" patternTransform="rotate(22)"><line x1="0" y1=".5" x2="1.5" y2=".5" stroke="#333" stroke-width=".8" stroke-dasharray=".9 .5"/></pattern>
</defs>
<!-- housing 51 body -->
<path class="w" d="M606.600 644.200c2-1.500 4-3 5.100-3.600l7.300-5.900l4.500-.7L671.900 653c2 1.500 3.500 4 4.400 6.600l-12 2c-3-.5-5.500-.3-7.100 .3c-3 1.200-6 3-8.800 5.100c-2 2.500-3.500 5.500-4.400 8.800l-10.300 8.800l-2.200 17.600l2.200 14.700L592.600 702.200c-2-.5-3.500-1.500-4.400-2.900c-2-2.500-3.200-5.500-3.700-8.800c-.5-4.500-.5-9 0-13.200c1-5 3-9.500 5.200-13.300c2-3.500 4.500-7 7.300-10.200c3-3.500 6-6.500 9.600-9.600z"/>
<path class="b" d="M606.600 644.200L663.100 662.600"/>
<path d="M611.700 640.600L666 658.500M623.500 636.200L669 651.600"/>
<path d="M610 647c-3 2.500-6 5.500-8.500 9c-3 3.500-5 7-7 10.500c-2 4-3.500 8-4.200 12c-.5 4-.5 8 0 12c.5 3 2 6 4 8.500"/>
<path class="b" d="M633.700 684.600c-1.500 5-2.200 11-2.200 17.600c0 5 .8 10 2.200 14.700"/>
<path d="M636 686c-1.500 5-2.200 10.500-2.200 16.500c0 5 .8 9 2 13"/>
<path class="b" d="M633.700 684.600c2-1.500 4-2.500 5.500-4c1.500-1.500 3-3 4.800-4.800c1.500-3 2.800-6 4.400-8.800c2.500-2 5.500-3.800 8.800-5.100c2.500-.7 5-1 7.400-.8"/>
<path d="M633.700 716.900l7.300-7.300l-1.500-3l-5.800 1M641 709.600v-5"/>
<path d="M645 679L660 684M648 672L652 673.500"/>
<!-- slots -->
<g fill="#1c1c1c" stroke="none"><circle cx="594" cy="674.300" r="1"/><circle cx="594" cy="678.700" r="1"/><circle cx="594.800" cy="683.900" r="1"/><circle cx="596.300" cy="688.300" r="1"/><circle cx="597.800" cy="692.700" r="1"/><circle cx="599.200" cy="697.100" r="1"/></g>
<g style="stroke-width:2;stroke:#3a3a3a" stroke-dasharray=".8 .5">
<path d="M595 674.700L630.500 689M595 679.100L630 693.400M595.800 684.300L630 698M597.300 688.700L630 702.500M598.800 693.100L630 706.500M600.200 697.500L630.500 710.500M603 702L631 714"/>
</g>
<!-- screws -->
<g class="b"><circle class="w" cx="619.300" cy="634.700" r="2"/><circle cx="620" cy="634" r="1"/><path d="M621 636l5 1.500"/>
<circle class="w" cx="589" cy="663.300" r="2"/><circle cx="589" cy="663.300" r=".9"/><path d="M590.500 661.500l5-4"/>
<circle class="w" cx="634.500" cy="684.600" r="1.800"/><path d="M630.500 683l8 3M631 686l7 0"/></g>
<!-- right end rings of housing -->
<path d="M642.200 676.300c1.500-3.500 3-6 4.800-8.500c2.500-2 5.500-3.800 8.400-4.800c3-1.200 6.500-2 9.600-2.400c3.500-.3 6.500 .3 9.700 1.200"/>
<clipPath id="h5"><polygon points="662,655.5 672.5,657.5 676.5,663.5 667,662.8"/></clipPath><path clip-path="url(#h5)" d="M646.8 659.6L665.5 637.4M648.3 660.8L666.9 638.6M649.7 662.1L668.4 639.8M651.2 663.3L669.8 641.1M652.7 664.5L671.3 642.3M654.1 665.7L672.7 643.5M655.6 666.9L674.2 644.7M657.0 668.2L675.7 645.9M658.5 669.4L677.1 647.2M659.9 670.6L678.6 648.4M661.4 671.8L680.0 649.6M662.8 673.1L681.5 650.8M664.3 674.3L682.9 652.1M665.8 675.5L684.4 653.3M667.2 676.7L685.8 654.5M668.7 677.9L687.3 655.7M670.1 679.2L688.8 656.9M671.6 680.4L690.2 658.2M673.0 681.6L691.7 659.4" style="stroke:#2a2a2a;stroke-width:0.8;fill:none"/>
<path d="M671.900 653c2.500 2 4 5 5 9.500"/>
<!-- rear cap 42 -->
<path class="w b" d="M679.500 665.400c2-2.500 4-4.500 6-6c2.500-.5 5-.2 7.200 .6c3.500 2 7 4.500 9.600 7.800c2 3.500 3.800 7 4.800 10.900c.8 4 1.200 8 1.200 12c-1 2-2.800 3.500-4.800 4.800l-2 20l-22 4z"/>
<clipPath id="h3"><polygon points="693.9,669 702.3,669 707.1,681 707.1,693 702.3,695.5 697.5,681"/></clipPath><path clip-path="url(#h3)" d="M664.3 697.3L682.4 647.5M665.9 697.8L684.0 648.0M667.5 698.4L685.6 648.6M669.1 699.0L687.2 649.2M670.7 699.6L688.8 649.8M672.3 700.2L690.4 650.4M673.9 700.8L692.0 651.0M675.5 701.3L693.6 651.5M677.1 701.9L695.2 652.1M678.7 702.5L696.8 652.7M680.3 703.1L698.4 653.3M681.9 703.7L700.0 653.9M683.4 704.2L701.6 654.4M685.0 704.8L703.2 655.0M686.6 705.4L704.8 655.6M688.2 706.0L706.4 656.2M689.8 706.6L708.0 656.8M691.4 707.2L709.6 657.3M693.0 707.7L711.2 657.9M694.6 708.3L712.8 658.5M696.2 708.9L714.4 659.1M697.8 709.5L716.0 659.7M699.4 710.1L717.6 660.3M701.0 710.6L719.1 660.8M702.6 711.2L720.7 661.4M704.2 711.8L722.3 662.0M705.8 712.4L723.9 662.6M707.4 713.0L725.5 663.2M709.0 713.5L727.1 663.7M710.6 714.1L728.7 664.3M712.2 714.7L730.3 664.9M713.8 715.3L731.9 665.5M715.4 715.9L733.5 666.1M717.0 716.5L735.1 666.7M718.6 717.0L736.7 667.2" style="stroke:#222;stroke-width:1.05;fill:none"/>
<clipPath id="h4"><polygon points="685.5,661 692.5,661.5 694.5,665.5 688.5,666.5"/></clipPath><path clip-path="url(#h4)" d="M676.3 657.9L691.8 648.9M677.1 659.4L692.7 650.4M678.0 660.9L693.5 651.9M678.8 662.4L694.4 653.4M679.7 663.8L695.2 654.8M680.5 665.3L696.1 656.3M681.4 666.8L696.9 657.8M682.2 668.2L697.8 659.2M683.1 669.7L698.6 660.7M683.9 671.2L699.5 662.2M684.8 672.7L700.3 663.7M685.6 674.1L701.2 665.1M686.5 675.6L702.0 666.6M687.3 677.1L702.9 668.1M688.2 678.6L703.7 669.6" style="stroke:#222;stroke-width:1.05;fill:none"/>
<!-- front cap 52 -->
<path class="w b" d="M645.800 703.900c.5-3 1.300-6 2.400-8.400c2-4 4.500-7.500 7.200-10.800c2-3.500 4-6.500 6-9.700c2.200-2.500 4.700-4.500 7.300-6c3-.5 5.800-.7 8.400-.6l2.400 4.200l3.500 7.300l9.700-1.200l7.200 14.400l4.800 14.400l-4.800 9.600l-19.200 2.400l-4.800 5.300c-4 2.200-8.500 3.800-13.300 4.300c-4.500-.8-8.500-2.500-12-4.800c-1.500-2-2.800-4.500-3.600-7.200c-.8-4-1.200-8.500-1.200-13.200z"/>
<clipPath id="h1"><polygon points="683,679.9 692.7,678.7 699.9,693.1 704.7,707.5 699.9,717.1 683,718.3 677,693 674.7,685.9"/></clipPath><path clip-path="url(#h1)" d="M633.6 713.5L670.8 643.6M635.1 714.3L672.3 644.4M636.6 715.1L673.8 645.2M638.1 715.9L675.3 646.0M639.6 716.7L676.8 646.8M641.1 717.5L678.3 647.6M642.6 718.3L679.8 648.4M644.1 719.1L681.3 649.2M645.6 719.9L682.8 650.0M647.1 720.7L684.3 650.8M648.6 721.5L685.8 651.6M650.1 722.3L687.3 652.4M651.6 723.1L688.8 653.2M653.1 723.9L690.3 654.0M654.6 724.7L691.8 654.8M656.1 725.5L693.3 655.6M657.6 726.3L694.8 656.4M659.1 727.1L696.3 657.2M660.6 727.9L697.8 657.9M662.1 728.7L699.3 658.7M663.6 729.5L700.8 659.5M665.1 730.3L702.3 660.3M666.6 731.1L703.8 661.1M668.1 731.9L705.3 661.9M669.6 732.7L706.8 662.7M671.1 733.5L708.3 663.5M672.6 734.3L709.8 664.3M674.1 735.1L711.3 665.1M675.6 735.9L712.8 665.9M677.1 736.7L714.3 666.7M678.6 737.5L715.8 667.5M680.1 738.3L717.3 668.3M681.6 739.1L718.8 669.1M683.1 739.8L720.3 669.9M684.6 740.6L721.8 670.7M686.1 741.4L723.3 671.5M687.6 742.2L724.8 672.3M689.1 743.0L726.3 673.1M690.6 743.8L727.8 673.9M692.1 744.6L729.3 674.7M693.6 745.4L730.8 675.5M695.1 746.2L732.3 676.3M696.6 747.0L733.8 677.1M698.1 747.8L735.3 677.9M699.6 748.6L736.8 678.7M701.1 749.4L738.3 679.5M702.6 750.2L739.8 680.3M704.1 751.0L741.3 681.1M705.6 751.8L742.8 681.9M707.1 752.6L744.3 682.7M708.6 753.4L745.8 683.5" style="stroke:#222;stroke-width:1.05;fill:none"/>
<clipPath id="h2"><polygon points="660.2,703.9 669.9,699.1 675.9,712.3 674.7,721.9 661.4,726.7 659,714.7"/></clipPath><path clip-path="url(#h2)" d="M627.5 722.9L653.4 674.2M629.0 723.7L654.9 675.0M630.5 724.5L656.4 675.8M632.0 725.3L657.9 676.6M633.5 726.1L659.4 677.4M635.0 726.9L660.9 678.2M636.5 727.7L662.4 679.0M638.0 728.5L663.9 679.8M639.5 729.3L665.4 680.5M641.0 730.1L666.9 681.3M642.5 730.9L668.4 682.1M644.0 731.7L669.9 682.9M645.5 732.5L671.4 683.7M647.0 733.3L672.9 684.5M648.5 734.1L674.4 685.3M650.0 734.9L675.9 686.1M651.5 735.7L677.4 686.9M653.0 736.5L678.9 687.7M654.5 737.3L680.4 688.5M656.0 738.1L681.9 689.3M657.5 738.9L683.4 690.1M659.0 739.7L684.9 690.9M660.5 740.5L686.4 691.7M662.0 741.3L687.9 692.5M663.5 742.1L689.4 693.3M665.0 742.9L690.9 694.1M666.5 743.7L692.4 694.9M668.0 744.5L693.9 695.7M669.5 745.3L695.4 696.5M671.0 746.0L696.9 697.3M672.5 746.8L698.4 698.1M674.0 747.6L699.9 698.9M675.5 748.4L701.4 699.7M677.0 749.2L702.9 700.5M678.5 750.0L704.4 701.3M680.0 750.8L705.9 702.1M681.5 751.6L707.4 702.9" style="stroke:#222;stroke-width:1.05;fill:none"/>
<path class="b" d="M667.500 673.200l10.800 4.300M651.800 693.700l10.800 4.200"/>
<path d="M656 697v3l5 2M648.200 695.500l12 8.400"/>
</g>
<g id="labels">
<path class="l" d="M35.2 440.3H44.2M35.2 440.3L33.5 524.7"/>
<text class="tx" text-anchor="middle" transform="translate(39.9 434.0) scale(0.68 1)">1</text>
<path class="l" d="M74.7 440.3H83.7M74.7 440.3L76.7 488.4"/>
<text class="tx" text-anchor="middle" transform="translate(78.8 434.0) scale(0.68 1)">2</text>
<path class="l" d="M113 440.3H122.2M113 440.3L120 471.3"/>
<text class="tx" text-anchor="middle" transform="translate(118.3 434.0) scale(0.68 1)">3</text>
<path class="l" d="M152.1 440.3H161.3M152.1 440.3L146.8 504.4"/>
<text class="tx" text-anchor="middle" transform="translate(157.0 434.0) scale(0.68 1)">4</text>
<path class="l" d="M180.5 439.6H188.9M180.5 439.6L173.4 496.6"/>
<text class="tx" text-anchor="middle" transform="translate(184.6 433.3) scale(0.68 1)">5</text>
<path class="l" d="M218.8 439.6H227M218.8 439.6L204.2 503.2"/>
<text class="tx" text-anchor="middle" transform="translate(223.8 433.3) scale(0.68 1)">6</text>
<path class="l" d="M239.3 439.6H248.1M239.3 439.6L227 521.9"/>
<text class="tx" text-anchor="middle" transform="translate(245.0 433.3) scale(0.68 1)">53</text>
<path class="l" d="M265.5 438.7H274.3M265.5 438.7L317.3 496.4"/>
<text class="tx" text-anchor="middle" transform="translate(269.6 432.4) scale(0.68 1)">7</text>
<path class="l" d="M265.8 396.6H274.5M265.8 396.6L316 423.7"/>
<text class="tx" text-anchor="middle" transform="translate(270.3 390.3) scale(0.68 1)">8</text>
<path class="l" d="M265.8 355H274.5M265.8 355L333.7 397"/>
<text class="tx" text-anchor="middle" transform="translate(270.3 348.7) scale(0.68 1)">9</text>
<path class="l" d="M265.8 312.6H274.5M265.8 312.6L317.3 354.3"/>
<text class="tx" text-anchor="middle" transform="translate(271.8 306.3) scale(0.68 1)">10</text>
<path class="l" d="M265.8 269.9H274.5M265.8 269.9L317.7 329.7"/>
<text class="tx" text-anchor="middle" transform="translate(271.1 263.6) scale(0.68 1)">11</text>
<path class="l" d="M265.8 227.9H274.5M265.8 227.9L316 298"/>
<text class="tx" text-anchor="middle" transform="translate(271.8 221.6) scale(0.68 1)">12</text>
<path class="l" d="M265.8 185.8H274.5M265.8 185.8L317.3 215.7"/>
<text class="tx" text-anchor="middle" transform="translate(271.8 179.5) scale(0.68 1)">13</text>
<path class="l" d="M129 246.5H137M129 246.5L200.7 252.4"/>
<text class="tx" text-anchor="middle" transform="translate(135.0 240.2) scale(0.68 1)">14</text>
<path class="l" d="M129 204H137M129 204L175.5 208"/>
<text class="tx" text-anchor="middle" transform="translate(135.0 197.7) scale(0.68 1)">15</text>
<path class="l" d="M129 161.8H137M129 161.8L199 187.3"/>
<text class="tx" text-anchor="middle" transform="translate(135.0 155.5) scale(0.68 1)">16</text>
<path class="l" d="M129 119.4H137M129 119.4L197 164"/>
<text class="tx" text-anchor="middle" transform="translate(135.0 113.1) scale(0.68 1)">17</text>
<path class="l" d="M129.5 77H137M129.5 77L185 102"/>
<text class="tx" text-anchor="middle" transform="translate(135.0 70.7) scale(0.68 1)">18</text>
<path class="l" d="M427 257.7H435.6M427 257.7L407.4 246"/>
<text class="tx" text-anchor="middle" transform="translate(433.4 251.4) scale(0.68 1)">19</text>
<path class="l" d="M427 299.8H435.6M427 299.8L413.1 326"/>
<text class="tx" text-anchor="middle" transform="translate(433.4 293.5) scale(0.68 1)">20</text>
<path class="l" d="M549 66.2H557.5M549 66.2L503 25.6"/>
<text class="tx" text-anchor="middle" transform="translate(555.8 59.9) scale(0.68 1)">21</text>
<path class="l" d="M549 108.5H557.5M549 108.5L498.8 49.1"/>
<text class="tx" text-anchor="middle" transform="translate(555.8 102.2) scale(0.68 1)">22</text>
<path class="l" d="M549 150.6H557.5M549 150.6L502 84.4"/>
<text class="tx" text-anchor="middle" transform="translate(555.8 144.3) scale(0.68 1)">23</text>
<path class="l" d="M549.3 193.5H557.5M549.3 193.5L503 141"/>
<text class="tx" text-anchor="middle" transform="translate(556.0 187.2) scale(0.68 1)">24</text>
<path class="l" d="M549.3 236H557.5M549.3 236L509.6 236"/>
<text class="tx" text-anchor="middle" transform="translate(556.0 229.7) scale(0.68 1)">25</text>
<path class="l" d="M549.3 277.8H557.5M549.3 277.8L498.7 258.7"/>
<text class="tx" text-anchor="middle" transform="translate(556.0 271.5) scale(0.68 1)">26</text>
<path class="l" d="M549.3 320.3H557.5M549.3 320.3L500.2 281.3"/>
<text class="tx" text-anchor="middle" transform="translate(556.0 314.0) scale(0.68 1)">27</text>
<path class="l" d="M549.3 362H557.5M549.3 362L498.7 329.1"/>
<text class="tx" text-anchor="middle" transform="translate(556.0 355.7) scale(0.68 1)">28</text>
<path class="l" d="M701.8 145.2H710.3M701.8 145.2L646.2 99.9"/>
<text class="tx" text-anchor="middle" transform="translate(708.6 138.9) scale(0.68 1)">29</text>
<path class="l" d="M701.8 187.1H710.3M701.8 187.1L638.8 199.3"/>
<text class="tx" text-anchor="middle" transform="translate(708.6 180.8) scale(0.68 1)">30</text>
<path class="l" d="M492.5 402.5H503.8M492.5 402.5L451.7 384.5"/>
<text class="tx" style="font-size:8.6px" text-anchor="middle" transform="translate(499.3 401.0) scale(0.68 1)">31</text>
<path class="l" d="M460.6 423H470.9M460.6 423L397 431.7"/>
<text class="tx" style="font-size:8.6px" text-anchor="middle" transform="translate(465.6 421.5) scale(0.68 1)">32</text>
<path class="l" d="M365 470H374.7M365 470L344 530"/>
<text class="tx" text-anchor="middle" transform="translate(372.3 463.7) scale(0.68 1)">33</text>
<path class="l" d="M401.7 482.9H411.4M401.7 482.9L350.3 567.5"/>
<text class="tx" text-anchor="middle" transform="translate(409.0 476.6) scale(0.68 1)">34</text>
<path class="l" d="M438.4 495.5H450.1M438.4 495.5L400.2 580.7"/>
<text class="tx" text-anchor="middle" transform="translate(446.3 489.2) scale(0.68 1)">35</text>
<path class="l" d="M475.7 508.7H486M475.7 508.7L422.2 567.5"/>
<text class="tx" text-anchor="middle" transform="translate(483.3 502.4) scale(0.68 1)">36</text>
<path class="l" d="M513.3 521.4H523.6M513.3 521.4L438.4 579.2"/>
<text class="tx" text-anchor="middle" transform="translate(520.6 515.1) scale(0.68 1)">37</text>
<path class="l" d="M551.7 534H560.1M551.7 534L445.7 582.2"/>
<text class="tx" text-anchor="middle" transform="translate(558.1 527.7) scale(0.68 1)">38</text>
<path class="l" d="M579 542.4H590.2M579 542.4L452 585"/>
<text class="tx" style="font-size:8.6px" text-anchor="middle" transform="translate(586.0 540.9) scale(0.68 1)">39</text>
<path class="l" d="M623.7 556.6H634.9M623.7 556.6L544 604.6"/>
<text class="tx" style="font-size:8.6px" text-anchor="middle" transform="translate(631.5 555.1) scale(0.68 1)">40</text>
<path class="l" d="M651 548H661.4M651 548L584.6 629.7"/>
<text class="tx" style="font-size:8.6px" text-anchor="middle" transform="translate(657.7 546.5) scale(0.68 1)">41</text>
<path class="l" d="M693.5 558H704.6M693.5 558L639 645.1"/>
<text class="tx" style="font-size:8.6px" text-anchor="middle" transform="translate(701.0 556.5) scale(0.68 1)">51</text>
<path class="l" d="M732.5 592H741.5M732.5 592L676.7 661.8"/>
<text class="tx" style="font-size:8.6px" text-anchor="middle" transform="translate(736.7 590.5) scale(0.68 1)">52</text>
<path class="l" d="M726.4 620.5H736.7M726.4 620.5L692 661.8"/>
<text class="tx" style="font-size:8.6px" text-anchor="middle" transform="translate(732.5 619.0) scale(0.68 1)">42</text>
<path class="l" d="M369.3 702.8H378.9M378.9 702.8L392.8 689.5"/>
<text class="tx" style="font-size:10.6px" text-anchor="middle" transform="translate(374.1 701.3) scale(0.7 1)">43</text>
<path class="l" d="M287 690.2H300.3M300.3 690.2L317.7 668.5"/>
<text class="tx" style="font-size:10.6px" text-anchor="middle" transform="translate(293.6 688.7) scale(0.7 1)">44</text>
<path class="l" d="M242.9 677.5H256.2M256.2 677.5L325.3 628.4"/>
<text class="tx" style="font-size:10.6px" text-anchor="middle" transform="translate(249.2 676.0) scale(0.7 1)">45</text>
<path class="l" d="M207.8 664.1H220.2M220.2 664.1L262.9 600"/>
<text class="tx" style="font-size:10.6px" text-anchor="middle" transform="translate(213.5 662.6) scale(0.7 1)">46</text>
<path class="l" d="M168.5 650.1H181.8M181.8 650.1L230.2 598.4"/>
<text class="tx" style="font-size:10.6px" text-anchor="middle" transform="translate(175.1 648.6) scale(0.7 1)">47</text>
<path class="l" d="M132.4 636.8H145.1M145.1 636.8L196.8 561.7"/>
<text class="tx" style="font-size:10.6px" text-anchor="middle" transform="translate(138.4 635.3) scale(0.7 1)">48</text>
<path class="l" d="M95 623.4H107.7M107.7 623.4L147 555"/>
<text class="tx" style="font-size:10.6px" text-anchor="middle" transform="translate(101.0 621.9) scale(0.7 1)">49</text>
<path class="l" d="M57.3 610.3H70.6M70.6 610.3L72.5 552.9"/>
<text class="tx" style="font-size:10.6px" text-anchor="middle" transform="translate(62.9 608.8) scale(0.7 1)">50</text>
</g>
</g>
</svg>
</body></html>
